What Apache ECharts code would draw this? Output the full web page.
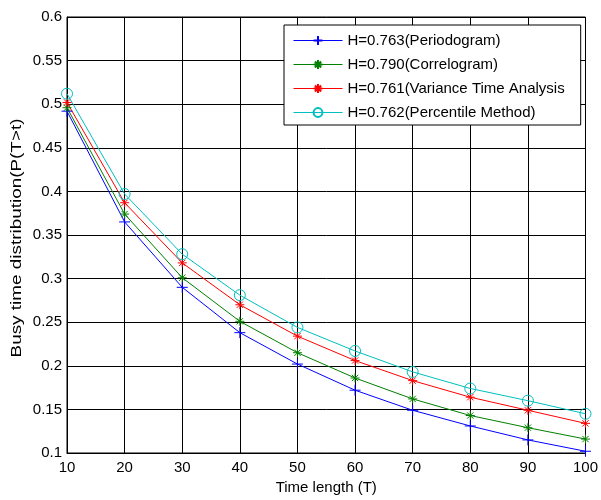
<!DOCTYPE html>
<html><head><meta charset="utf-8">
<script src="https://cdn.jsdelivr.net/npm/echarts@6/dist/echarts.min.js"></script>
<style>html,body{margin:0;padding:0;background:#fff}#c{width:601px;height:500px}</style>
</head><body><div id="c"></div>
<script>
var timeLength = [10, 20, 30, 40, 50, 60, 70, 80, 90, 100];
var periodogram = [0.492, 0.365, 0.290, 0.238, 0.202, 0.172, 0.149, 0.131, 0.115, 0.102];
var correlogram = [0.496, 0.374, 0.301, 0.251, 0.215, 0.186, 0.162, 0.143, 0.129, 0.116];
var varianceTime = [0.502, 0.387, 0.318, 0.270, 0.234, 0.206, 0.183, 0.164, 0.149, 0.134];
var percentile = [0.512, 0.397, 0.328, 0.281, 0.244, 0.217, 0.193, 0.174, 0.160, 0.145];
var seriesNames = ['H=0.763(Periodogram)', 'H=0.790(Correlogram)', 'H=0.761(Variance Time Analysis', 'H=0.762(Percentile Method)'];
var xAxisName = 'Time length (T)';
var yAxisName = 'Busy time distribution(P(T>t)';

var FONT = 'Arial, "Liberation Sans", sans-serif';
function pairs(ys){ return timeLength.map(function(x,i){ return [x, ys[i]]; }); }
var plusPath = 'path://M0,5L10,5M5,0L5,10';
var starPath = 'path://M0,5L10,5M5,0L5,10M1.5,1.5L8.5,8.5M1.5,8.5L8.5,1.5';

function mk(name, ys, color, symbol, size, fill){
  return {
    name: name, type: 'line', data: pairs(ys),
    symbol: symbol, symbolSize: size, showSymbol: true,
    lineStyle: {color: color, width: 1},
    itemStyle: {color: fill, borderColor: color, borderWidth: 1},
    emphasis: {disabled: true},
    animation: false
  };
}

var chart = echarts.init(document.getElementById('c'));
chart.setOption({
  animation: false,
  backgroundColor: '#fff',
  grid: {left: 67, right: 8, top: 17, bottom: 45, show: true, borderColor: '#000', borderWidth: 1, backgroundColor: 'transparent'},
  legend: {
    orient: 'vertical', left: 284, top: 25,
    padding: [8, 16, 5, 9], itemGap: 9, itemWidth: 49, itemHeight: 11, itemTextGap: 5,
    borderColor: '#000', borderWidth: 1, backgroundColor: '#fff',
    lineStyle: {width: 1},
    textStyle: {fontFamily: FONT, fontSize: 15, color: '#000', lineHeight: 15},
    data: seriesNames
  },
  graphic: [{
    type: 'text', x: 16.5, y: 238, rotation: Math.PI / 2, scaleX: 1.26,
    style: {text: yAxisName, font: '15px ' + FONT, fill: '#000', align: 'center', verticalAlign: 'middle'}
  }],
  xAxis: {
    type: 'value', min: 10, max: 100, interval: 10,
    name: xAxisName, nameLocation: 'middle', nameGap: 27,
    nameTextStyle: {fontFamily: FONT, fontSize: 15, color: '#000'},
    axisLine: {show: true, lineStyle: {color: '#000', width: 1}},
    axisTick: {show: true, inside: true, length: 5, lineStyle: {color: '#000'}},
    axisLabel: {fontFamily: FONT, fontSize: 15, color: '#000', margin: 7},
    splitLine: {show: true, lineStyle: {color: '#000', width: 1}}
  },
  yAxis: {
    type: 'value', min: 0.1, max: 0.6, interval: 0.05,
    axisLine: {show: true, lineStyle: {color: '#000', width: 1}},
    axisTick: {show: true, inside: true, length: 5, lineStyle: {color: '#000'}},
    axisLabel: {fontFamily: FONT, fontSize: 15, color: '#000', margin: 5,
      formatter: function(v){ return String(parseFloat(v.toFixed(2))); }},
    splitLine: {show: true, lineStyle: {color: '#000', width: 1}}
  },
  series: [
    mk(seriesNames[0], periodogram, '#0000ff', plusPath, 11, '#0000ff'),
    mk(seriesNames[1], correlogram, '#008000', starPath, 9, '#008000'),
    mk(seriesNames[2], varianceTime, '#ff0000', starPath, 9, '#ff0000'),
    mk(seriesNames[3], percentile, '#00bfbf', 'circle', 11, 'rgba(0,0,0,0)')
  ]
});
</script></body></html>
